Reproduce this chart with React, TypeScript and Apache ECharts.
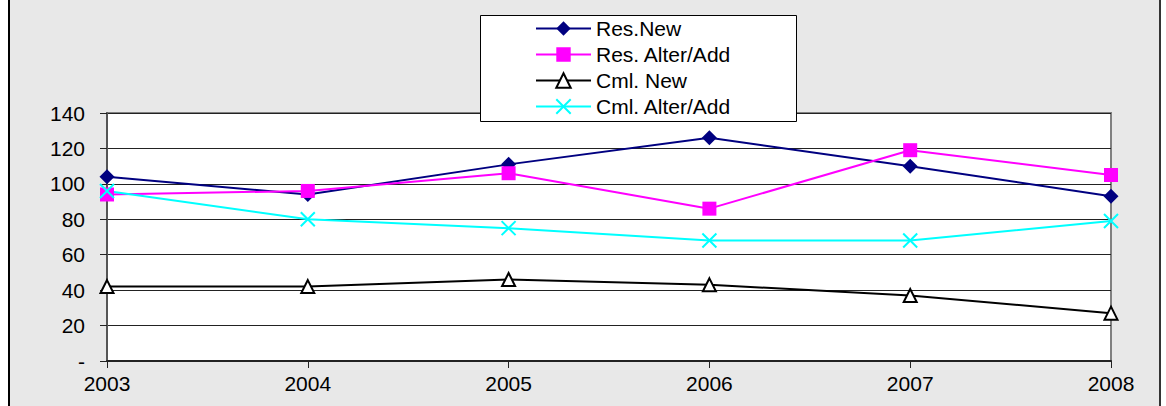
import React, { useEffect, useRef } from "react";
import * as echarts from "echarts";

const years = ["2003", "2004", "2005", "2006", "2007", "2008"];
const resNew = [104, 94, 111, 126, 110, 93];
const resAlter = [94, 96, 106, 86, 119, 105];
const cmlNew = [42, 42, 46, 43, 37, 27];
const cmlAlter = [96, 80, 75, 68, 68, 79];
const seriesNames = ["Res.New", "Res. Alter/Add", "Cml. New", "Cml. Alter/Add"];

const FONT = "Liberation Sans, Arial, sans-serif";

export default function App() {
  const ref = useRef<HTMLDivElement>(null);
  useEffect(() => {
    document.documentElement.style.overflow = "hidden";
    document.body.style.overflow = "hidden";
    const chart = echarts.init(ref.current!, null, { renderer: "svg" });
    chart.setOption({
      animation: false,
      textStyle: { fontFamily: FONT },
      graphic: [
        {
          type: "rect",
          z: 3,
          shape: { x: 480.5, y: 15.5, width: 316, height: 106 },
          style: { fill: "#ffffff", stroke: "#000000", lineWidth: 1 },
        },
      ],
      legend: {
        data: seriesNames,
        orient: "vertical",
        left: 535,
        top: 18,
        z: 5,
        itemWidth: 55,
        itemHeight: 18,
        itemGap: 5,
        padding: 0,
        textStyle: { fontFamily: FONT, fontSize: 21, color: "#000", lineHeight: 21 },
      },
      grid: {
        left: 107,
        right: 55,
        top: 113,
        bottom: 45,
        show: true,
        backgroundColor: "#ffffff",
        borderColor: "#808080",
        borderWidth: 2,
      },
      xAxis: {
        type: "category",
        data: years,
        boundaryGap: false,
        axisLine: { lineStyle: { color: "#222", width: 2 } },
        axisTick: { length: 7, lineStyle: { color: "#222" }, alignWithLabel: true },
        axisLabel: { fontFamily: FONT, fontSize: 21, color: "#000", margin: 12 },
        splitLine: { show: false },
      },
      yAxis: {
        type: "value",
        min: 0,
        max: 140,
        interval: 20,
        axisLine: { show: true, lineStyle: { color: "#555", width: 2 } },
        axisTick: { show: true, length: 7, lineStyle: { color: "#222" } },
        axisLabel: {
          fontFamily: FONT,
          fontSize: 21,
          color: "#000",
          margin: 22,
          formatter: (v: number) => (v === 0 ? "-" : String(v)),
        },
        splitLine: { lineStyle: { color: "#222", width: 1 } },
      },
      series: [
        {
          name: seriesNames[0],
          type: "line",
          data: resNew,
          symbol: "diamond",
          symbolSize: 15,
          lineStyle: { color: "#000080", width: 2 },
          itemStyle: { color: "#000080" },
        },
        {
          name: seriesNames[1],
          type: "line",
          data: resAlter,
          symbol: "rect",
          symbolSize: 14,
          lineStyle: { color: "#ff00ff", width: 2 },
          itemStyle: { color: "#ff00ff" },
        },
        {
          name: seriesNames[2],
          type: "line",
          data: cmlNew,
          symbol: "triangle",
          symbolSize: 13,
          lineStyle: { color: "#000000", width: 2 },
          itemStyle: { color: "#ffffff", borderColor: "#000000", borderWidth: 2 },
        },
        {
          name: seriesNames[3],
          type: "line",
          data: cmlAlter,
          symbol: "path://M0,0L10,10M10,0L0,10",
          symbolSize: 14,
          lineStyle: { color: "#00ffff", width: 2 },
          itemStyle: { color: "#00ffff", borderColor: "#00ffff", borderWidth: 2 },
        },
      ],
    });
    return () => chart.dispose();
  }, []);
  return (
    <div style={{ position: "absolute", left: 0, top: 0, width: 1166, height: 406, background: "#fff", overflow: "hidden" }}>
      <div
        style={{
          position: "absolute",
          left: 8,
          top: 0,
          width: 1153,
          height: 406,
          boxSizing: "border-box",
          background: "#e8e8e8",
          borderLeft: "2px solid #000",
          borderRight: "2px solid #333",
        }}
      />
      <div ref={ref} style={{ position: "absolute", left: 0, top: 0, width: 1166, height: 406 }} />
    </div>
  );
}
